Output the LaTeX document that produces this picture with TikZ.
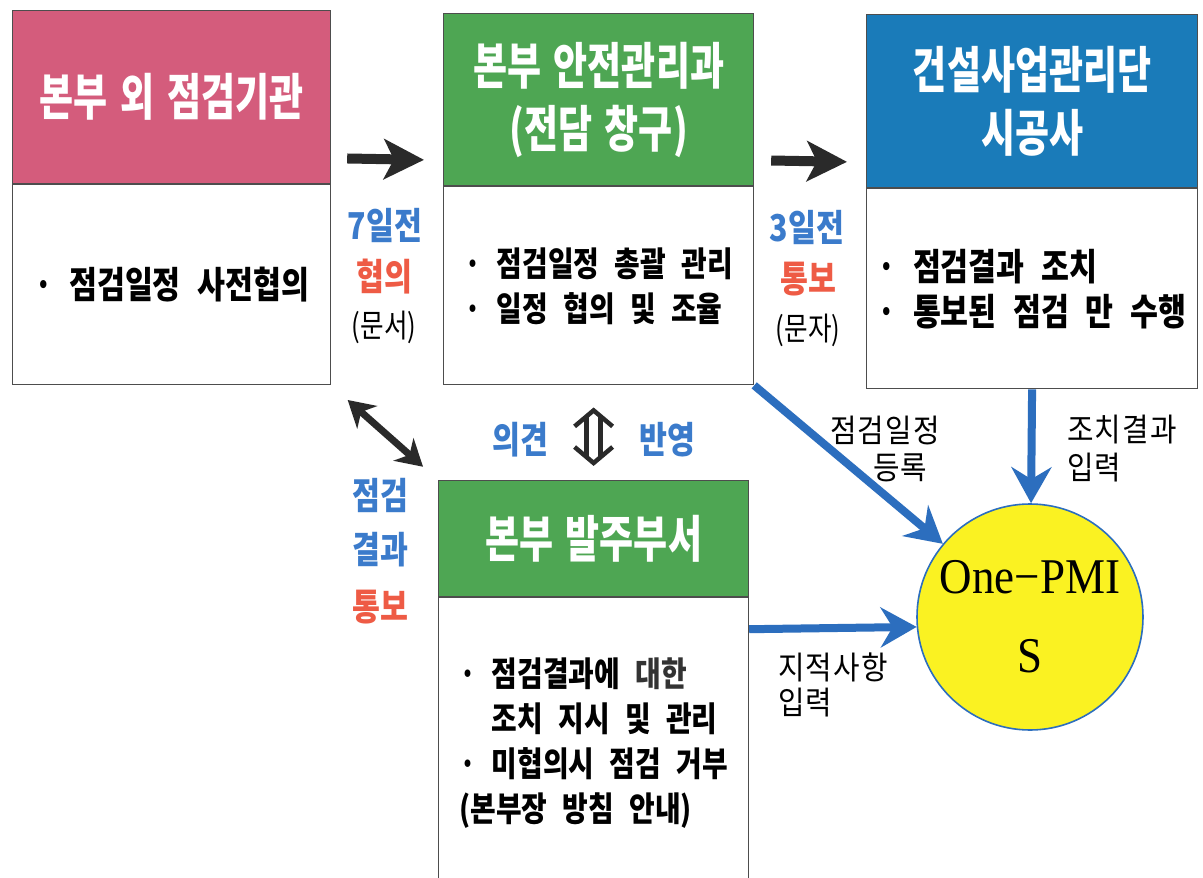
\documentclass[tikz,border=0pt]{standalone}
\usepackage{fontspec}
\usetikzlibrary{arrows.meta,calc}
\newfontfamily\krH{Noto Sans CJK KR}[FakeStretch=0.74,WordSpace=1.5]
\newfontfamily\krB{Noto Sans CJK KR}[FakeStretch=0.82,WordSpace=2.4]
\newfontfamily\krR{Noto Sans CJK KR}[FakeStretch=0.8]
\newfontfamily\krL{Noto Sans CJK KR}[FakeStretch=0.9,LetterSpace=4]
\newfontfamily\serL{Liberation Serif}[FakeStretch=0.9]
\definecolor{pinkH}{HTML}{D45C7C}
\definecolor{greenH}{HTML}{4EA653}
\definecolor{blueH}{HTML}{1A7BB9}
\definecolor{txtBlue}{HTML}{3B7BCB}
\definecolor{txtRed}{HTML}{EE5B45}
\definecolor{arrBlue}{HTML}{2C6EBE}
\definecolor{circYellow}{HTML}{FAF222}
\definecolor{edge}{HTML}{4D4D4D}
\definecolor{arrBlack}{HTML}{2A2A2A}
\tikzset{
  hdr/.style={draw=edge, line width=1.2pt, anchor=north west, inner sep=0pt, text=white, align=center, font=\krH\bfseries\fontsize{50}{63}\selectfont},
  bodybox/.style={draw=edge, line width=1.2pt, anchor=north west, inner sep=0pt, align=left, fill=white, font=\krB\bfseries\fontsize{37}{45}\selectfont},
  bodysmall/.style={font=\krB\bfseries\fontsize{34}{45}\selectfont},
  blkarrow/.style={draw=arrBlack, line width=10pt, -{Stealth[length=40pt,width=40pt,inset=10pt]}},
  dblarrow/.style={draw=arrBlack, line width=7pt, {Stealth[length=26pt,width=30pt,inset=8pt]}-{Stealth[length=26pt,width=30pt,inset=8pt]}},
  outline/.style={draw=arrBlack, line width=4.5pt, line join=miter},
  bluarrow/.style={draw=arrBlue, line width=8pt, -{Stealth[length=36pt,width=40pt,inset=12pt]}},
  lbB/.style={inner sep=0pt, text=txtBlue, font=\krB\bfseries\fontsize{37}{40}\selectfont},
  lbR/.style={inner sep=0pt, text=txtRed, font=\krB\bfseries\fontsize{37}{40}\selectfont},
  lbK/.style={inner sep=0pt, text=black, font=\krR\fontsize{32}{36}\selectfont},
  lbS/.style={inner sep=0pt, anchor=west, text=black, font=\krL\fontsize{32}{32}\selectfont},
}
\begin{document}
\begin{tikzpicture}[x=1pt,y=-1pt]
\clip (0,0) rectangle (1203,878);
\fill[white] (0,0) rectangle (1203,878);

% boxes
\node[hdr, fill=pinkH, minimum width=318pt, minimum height=173pt] (h1) at (12,10) {본부 외 점검기관};
\node[bodybox, minimum width=318pt, minimum height=200pt] (b1) at (h1.south west) {· 점검일정 사전협의};

\node[hdr, fill=greenH, minimum width=310pt, minimum height=172pt] (h2) at (443,13) {본부 안전관리과\\(전담 창구)};
\node[bodybox, bodysmall, minimum width=310pt, minimum height=198pt] (b2) at (h2.south west) {· 점검일정 총괄 관리\\· 일정 협의 및 조율};

\node[hdr, fill=blueH, minimum width=331pt, minimum height=173pt] (h3) at (866,14) {건설사업관리단\\시공사};
\node[bodybox, minimum width=331pt, minimum height=200pt] (b3) at (h3.south west) {· 점검결과 조치\\· 통보된 점검 만 수행};

\node[hdr, fill=greenH, minimum width=310pt, minimum height=116pt] (h4) at (438,480) {본부 발주부서};
\node[bodybox, bodysmall, minimum width=310pt, minimum height=290pt] (b4) at (h4.south west) {· 점검결과에 {\color{black!80}대한}\\\phantom{·\ }조치 지시 및 관리\\· 미협의시 점검 거부\\(본부장 방침 안내)};

% circle
\node[circle, draw=arrBlue, line width=1.6pt, fill=circYellow, minimum size=226pt, inner sep=0pt, align=center, font=\serL\fontsize{50}{79}\selectfont] (circ) at (1030,617) {One−PMI\\S};

% black arrows
\draw[blkarrow, shorten <=16pt, shorten >=19pt] ([yshift=26pt]h1.south east) -- ([yshift=26pt]h2.south west);
\draw[blkarrow, shorten <=17pt, shorten >=19pt] ([yshift=26pt]h2.south east) -- ([yshift=26pt]h3.south west);
\draw[dblarrow, shorten <=22pt, shorten >=20pt] (b1.south east) -- (h4.north west);

% outlined up-down arrow between b2 and h4
\coordinate (va) at ($(b2.south -| h4.north)+(0,25)$);
\coordinate (vb) at ($(h4.north)+(0,-17)$);
\draw[outline] ($(va)+(-19,16)$) -- (va) -- ($(va)+(19,16)$);
\draw[outline] ($(vb)+(-19,-16)$) -- (vb) -- ($(vb)+(19,-16)$);
\draw[outline] ($(va)+(-7,7)$) -- ($(vb)+(-7,-7)$);
\draw[outline] ($(va)+(7,7)$) -- ($(vb)+(7,-7)$);

% blue arrows
\draw[bluarrow] (b2.south east) -- (circ);
\draw[bluarrow] (b3.south) -- (circ);
\draw[bluarrow] ([yshift=-32pt]h4.south east) -- (circ.185);

% labels
\node[lbB] (l7) at (385,225) {7일전};
\node[lbR] (l7b) at (384,277) {협의};
\node[lbK] (l7c) at (384,327) {(문서)};
\node[lbB] (l3) at (807,227) {3일전};
\node[lbR] (l3b) at (808,279) {통보};
\node[lbK] (l3c) at (808,330) {(문자)};
\node[lbB] (r1) at (380,495) {점검};
\node[lbB] (r2) at (380,550) {결과};
\node[lbR] (r3) at (380,607) {통보};
\node[lbB] (o1) at (520,440) {의견};
\node[lbB] (o2) at (667,440) {반영};
\node[lbS] (s1) at (830,430) {점검일정};
\node[lbS] (s2) at (873,468) {등록};
\node[lbS] (s3) at (1067,430) {조치결과};
\node[lbS] (s4) at (1067,468) {입력};
\node[lbS] (s5) at (778,667) {지적사항};
\node[lbS] (s6) at (778,703) {입력};
\end{tikzpicture}
\end{document}
